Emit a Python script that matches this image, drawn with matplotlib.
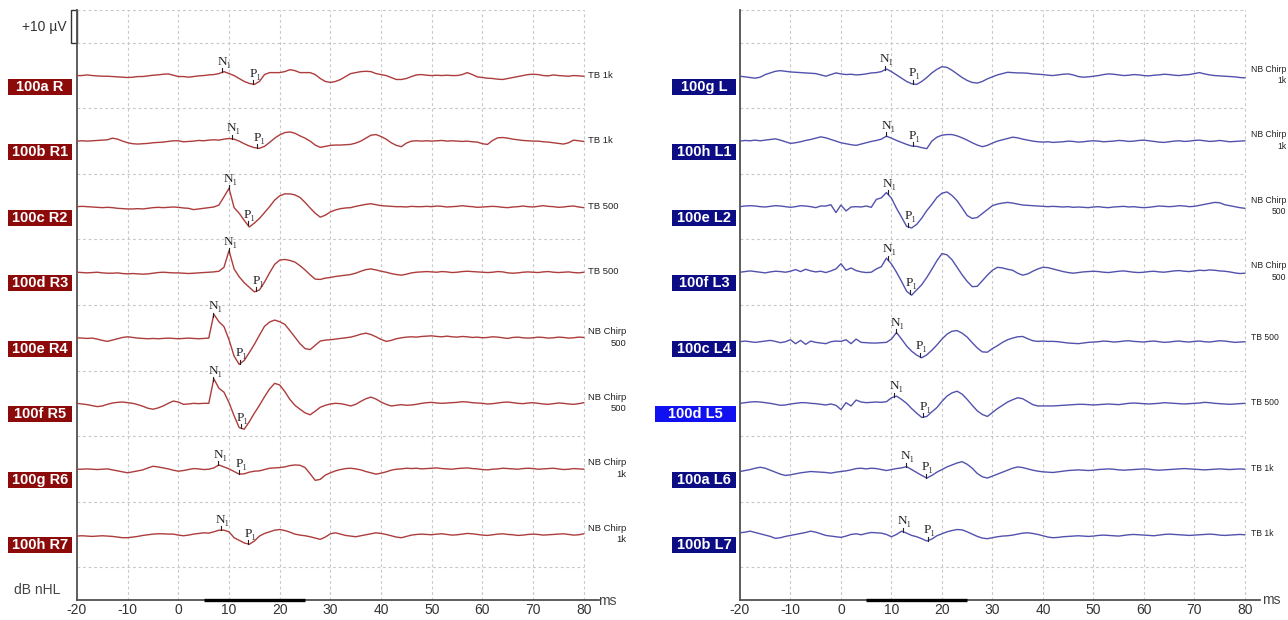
import numpy as np
import matplotlib
matplotlib.use("Agg")
import matplotlib.pyplot as plt
from matplotlib.patches import Rectangle
from matplotlib.transforms import blended_transform_factory

plt.rcParams['font.family'] = ['Liberation Sans', 'DejaVu Sans']
plt.rcParams['axes.unicode_minus'] = False

# sweep time base (ms), one sample per ms
times = np.arange(-20, 81)

# ---- right ear (left panel), amplitudes in uV ----
right_names = ["100a R", "100b R1", "100c R2", "100d R3",
               "100e R4", "100f R5", "100g R6", "100h R7"]
right_stims = ["TB 1k", "TB 1k", "TB 500", "TB 500",
               "NB Chirp\n500", "NB Chirp\n500", "NB Chirp\n1k", "NB Chirp\n1k"]
right_n1 = [8.7, 10.6, 9.9, 9.9, 6.9, 6.9, 7.9, 8.4]
right_p1 = [14.8, 15.6, 13.7, 15.4, 12.1, 12.3, 12.0, 13.8]

r0 = [0.0, 0.0, 0.2, 0.0, -0.1, -0.2, -0.2, -0.3, -0.4, -0.5,
      -0.6, -0.5, -0.3, -0.3, -0.1, 0.1, 0.2, 0.4, 0.5, 0.1,
      -0.3, -0.3, -0.5, -0.3, -0.1, 0.0, 0.2, 0.3, 0.6, 1.2,
      0.6, 0.0, -0.9, -1.8, -2.4, -2.7, -1.8, 0.3, 0.9, 0.9,
      0.9, 1.2, 1.8, 1.5, 0.9, 0.9, 0.9, 0.3, -0.9, -1.8,
      -2.1, -1.8, -1.2, -0.3, 0.6, 0.9, 1.2, 1.3, 1.2, 0.6,
      0.3, 0.0, -0.6, -1.2, -1.2, -0.9, -0.3, 0.2, 0.3, 0.1,
      0.0, 0.1, 0.0, 0.1, 0.0, 0.0, 0.3, 0.9, 0.3, -0.4,
      -0.6, -0.8, -0.9, -1.1, -1.2, -0.9, -0.6, -0.3, 0.0, 0.3,
      0.4, 0.3, 0.0, -0.1, 0.2, 0.0, -0.1, -0.2, 0.0, -0.1, -0.2]
r1 = [0.0, 0.1, 0.0, 0.1, 0.2, 0.3, 0.4, 0.9, 0.6, 0.0,
      -0.5, -0.8, -0.9, -0.8, -0.7, -0.5, -0.4, -0.3, -0.1, 0.1,
      0.1, -0.2, -0.1, 0.0, 0.2, 0.1, 0.3, 0.4, 0.3, 0.6,
      0.8, 0.6, 0.0, -0.8, -1.5, -2.0, -2.2, -1.6, -0.4, 0.9,
      1.9, 2.6, 2.8, 2.4, 1.6, 0.9, 0.0, -1.2, -1.9, -1.6,
      -1.3, -1.2, -1.2, -1.1, -1.0, -0.6, 0.0, 0.9, 1.8, 2.0,
      1.4, 0.6, -0.5, -1.3, -1.7, -0.6, 0.0, 0.1, 0.0, 0.1,
      0.0, 0.1, 0.2, 0.0, 0.1, 0.0, -0.1, 0.0, -0.2, -0.3,
      -0.8, -1.0, 0.2, 1.0, 1.1, 0.9, 0.6, 0.4, 0.2, 0.1,
      0.0, 0.0, -0.2, -0.3, -0.5, -0.7, -0.9, -0.5, 0.3, 0.1, -0.1]
r2 = [0.0, 0.1, 0.0, -0.1, -0.2, -0.3, -0.2, -0.3, -0.5, -0.6,
      -0.7, -0.7, -0.6, -0.7, -0.5, -0.3, -0.2, -0.3, -0.2, -0.1,
      -0.2, -0.4, -0.5, -0.9, -0.7, -0.5, -0.3, -0.1, 0.5, 3.0,
      5.6, -0.3, -2.0, -4.2, -6.2, -5.0, -3.6, -1.8, 0.0, 2.0,
      3.3, 3.9, 3.9, 3.6, 2.8, 1.3, -0.4, -2.0, -3.2, -2.6,
      -1.6, -1.0, -0.6, -0.4, -0.3, 0.1, 0.4, 0.7, 0.9, 0.6,
      0.3, 0.2, 0.1, 0.0, 0.0, -0.1, 0.1, 0.0, 0.0, 0.1,
      0.0, 0.2, 0.1, -0.1, 0.0, 0.1, 0.3, 0.1, 0.0, -0.2,
      -0.1, 0.0, 0.1, 0.0, -0.2, -0.3, -0.1, 0.0, 0.2, 0.0,
      -0.1, 0.1, 0.3, 0.1, 0.0, -0.2, -0.1, 0.1, 0.2, -0.1, -0.3]
r3 = [0.0, -0.1, -0.2, -0.1, 0.0, -0.2, -0.3, -0.3, -0.2, -0.4,
      -0.5, -0.4, -0.5, -0.6, -0.5, -0.3, -0.1, 0.0, -0.1, -0.2,
      -0.2, -0.3, -0.4, -0.3, -0.2, -0.1, 0.0, 0.1, 0.3, 1.5,
      6.6, 1.0, -1.4, -3.2, -4.6, -6.0, -5.4, -3.0, -0.2, 2.4,
      3.7, 3.9, 3.6, 3.1, 2.0, 0.7, -0.8, -2.1, -2.2, -1.8,
      -1.6, -1.3, -1.1, -0.9, -0.7, -0.3, 0.3, 0.8, 1.0, 0.7,
      0.3, 0.0, -0.4, -0.7, -0.9, -0.6, -0.2, 0.0, 0.1, 0.2,
      0.1, 0.0, 0.2, 0.1, -0.1, 0.0, 0.2, 0.3, 0.2, 0.1,
      0.0, -0.1, 0.0, 0.2, 0.1, -0.2, -0.3, -0.2, 0.0, 0.1,
      0.0, -0.1, 0.1, 0.2, 0.0, -0.1, 0.0, 0.1, -0.1, -0.2, 0.0]
r4 = [0.0, -0.1, -0.2, -0.1, -0.4, -0.8, -1.1, -0.7, -0.3, 0.1,
      0.3, 0.1, -0.1, -0.2, -0.3, -0.2, -0.3, -0.2, -0.1, -0.2,
      -0.3, -0.2, -0.1, -0.2, -0.3, -0.2, -0.1, 7.2, 4.9, 3.4,
      -0.6, -5.6, -8.1, -6.9, -4.5, -2.0, 0.8, 3.5, 4.8, 5.4,
      4.9, 4.1, 2.2, 0.2, -1.8, -3.3, -3.6, -2.3, -1.0, -0.7,
      -0.6, -0.4, -0.2, 0.0, 0.2, 0.6, 1.1, 1.4, 1.0, 0.3,
      -0.5, -1.1, -0.8, -0.3, 0.0, 0.2, 0.3, 0.2, 0.4, 0.5,
      0.6, 0.4, 0.3, 0.5, 0.3, 0.2, 0.4, 0.3, 0.1, 0.2,
      0.0, 0.1, 0.3, 0.2, 0.0, -0.2, 0.1, 0.2, 0.0, -0.1,
      0.0, 0.2, 0.1, -0.1, 0.0, 0.2, 0.1, -0.1, 0.0, 0.2, 0.1]
r5 = [0.0, -0.2, -0.4, -0.7, -1.0, -0.8, -0.3, 0.1, 0.3, 0.4,
      0.2, 0.0, -0.4, -0.9, -1.5, -1.8, -1.4, -0.8, 0.0, 0.7,
      0.4, -0.3, -0.2, 0.0, -0.1, 0.0, 0.0, 7.5, 4.6, 3.4,
      0.2, -3.8, -7.4, -7.9, -5.6, -3.0, -0.6, 2.0, 4.4, 6.1,
      5.6, 3.6, 1.2, -0.6, -1.8, -2.9, -3.5, -2.4, -1.2, -0.6,
      -0.2, 0.0, -0.1, -0.4, -0.8, -0.3, 0.6, 1.4, 1.9, 1.3,
      0.4, -0.3, -0.8, -0.6, -0.4, -0.6, -0.5, -0.3, 0.0, 0.2,
      0.3, 0.1, 0.0, 0.1, 0.2, 0.3, 0.5, 0.4, 0.2, 0.1,
      0.0, -0.2, -0.1, 0.1, 0.3, 0.4, 0.2, 0.0, -0.1, 0.1,
      0.2, 0.0, -0.2, -0.3, -0.1, 0.1, 0.0, -0.2, -0.3, -0.1, 0.2]
r6 = [-0.1, -0.1, 0.0, -0.1, -0.2, -0.1, 0.0, -0.3, -0.6, -0.9,
      -1.2, -0.9, -0.6, -0.3, 0.3, 0.8, 0.6, 0.3, 0.0, -0.4,
      -0.7, -0.5, -0.2, 0.1, 0.0, -0.2, -0.1, 0.3, 1.2, 0.6,
      0.0, -0.8, -1.6, -1.5, -1.0, -0.7, -0.6, -0.2, 0.2, 0.3,
      0.4, 0.6, 1.0, 1.2, 1.1, 0.4, -1.5, -3.5, -3.2, -1.9,
      -1.2, -0.6, -0.2, 0.1, 0.2, 0.0, -0.3, -0.8, -1.2, -1.6,
      -1.3, -0.9, -0.4, -0.1, 0.0, 0.2, 0.1, 0.2, 0.0, 0.1,
      0.2, 0.3, 0.1, 0.0, -0.1, 0.1, 0.2, 0.3, 0.1, 0.0,
      -0.2, -0.3, -0.1, 0.0, 0.2, 0.1, 0.0, -0.1, 0.1, 0.2,
      0.1, -0.1, 0.0, 0.1, 0.2, 0.0, -0.2, -0.1, 0.1, 0.0, -0.1]
r7 = [-0.5, -0.4, -0.5, -0.6, -0.5, -0.4, -0.5, -0.6, -0.8, -1.0,
      -1.0, -0.8, -0.6, -0.3, -0.1, 0.1, 0.2, 0.2, 0.1, 0.1,
      -0.2, -0.4, -0.2, 0.1, 0.3, 0.5, 0.4, 0.8, 1.3, 1.3,
      0.8, -1.0, -1.8, -2.6, -3.0, -2.0, -0.5, 0.3, 0.8, 1.3,
      1.5, 1.2, 0.7, 0.1, -0.2, -0.4, -0.7, -1.1, -1.5, -0.8,
      0.2, 0.5, 0.1, -0.3, -0.5, -0.7, -0.4, -0.1, 0.2, 0.5,
      0.3, 0.0, -0.4, -0.8, -1.0, -0.6, -0.2, 0.0, 0.1, 0.0,
      -0.1, 0.1, 0.2, 0.0, -0.2, -0.1, 0.1, 0.3, 0.2, 0.0,
      -0.2, -0.3, -0.1, 0.1, 0.2, 0.0, -0.1, -0.3, -0.2, 0.0,
      0.1, 0.0, -0.2, -0.1, 0.0, 0.1, 0.2, 0.0, -0.2, -0.1, 0.2]

# ---- left ear (right panel) ----
left_names = ["100g L", "100h L1", "100e L2", "100f L3",
              "100c L4", "100d L5", "100a L6", "100b L7"]
left_stims = ["NB Chirp\n1k", "NB Chirp\n1k", "NB Chirp\n500", "NB Chirp\n500",
              "TB 500", "TB 500", "TB 1k", "TB 1k"]
left_n1 = [8.7, 9.0, 9.3, 9.3, 10.9, 10.6, 12.8, 12.3]
left_p1 = [14.2, 14.2, 13.3, 13.6, 15.6, 16.3, 16.8, 17.2]

l0 = [-0.2, -0.4, -0.6, -0.8, -0.5, 0.3, 0.8, 1.3, 1.5, 1.3,
      1.1, 1.0, 0.9, 0.8, 0.7, 0.6, 0.2, -0.2, 0.3, 0.8,
      0.5, 0.3, 0.4, 0.2, 0.3, 0.5, 0.8, 0.9, 1.2, 2.0,
      1.2, 0.2, -0.8, -1.8, -2.5, -2.7, -1.8, -0.6, 0.8, 1.9,
      2.7, 2.5, 1.6, 0.5, -0.6, -1.5, -2.1, -2.3, -1.8, -1.0,
      -0.4, 0.2, 0.6, 1.0, 0.9, 0.8, 0.8, 0.7, 0.5, 0.4,
      0.3, 0.1, 0.0, 0.2, 0.4, 0.5, 0.2, -0.3, -0.5, -0.4,
      -0.2, 0.0, 0.3, 0.5, 0.4, 0.2, 0.0, 0.1, 0.3, 0.2,
      0.0, -0.1, 0.1, 0.2, 0.4, 0.3, 0.1, 0.0, 0.2, 0.3,
      0.6, 0.9, 0.5, 0.2, 0.0, -0.1, -0.2, -0.3, -0.4, -0.6, -0.7]
l1 = [0.0, 0.2, 0.1, 0.3, 0.1, 0.3, 0.5, 0.7, 0.3, -0.2,
      -0.7, -0.5, -0.2, 0.2, 0.5, 0.9, 1.3, 1.0, 0.5, 0.0,
      -0.5, -0.8, -1.1, -1.3, -0.9, -0.5, -0.1, 0.2, 0.6, 1.5,
      0.9, 0.2, -0.4, -1.0, -1.5, -1.6, -2.0, -2.3, 0.0, 1.2,
      1.8, 2.0, 2.0, 1.6, 1.0, 0.3, -0.5, -1.2, -1.7, -1.3,
      -0.6, 0.0, 0.4, 0.8, 1.2, 1.0, 0.6, 0.3, 0.0, -0.2,
      -0.3, -0.2, -0.4, -0.3, -0.2, 0.0, -0.1, -0.3, -0.2, 0.0,
      0.1, 0.0, -0.2, -0.1, 0.0, 0.2, 0.1, -0.1, 0.0, 0.2,
      0.3, 0.1, -0.1, -0.3, -0.4, -0.2, 0.0, 0.1, -0.1, 0.0,
      0.2, 0.3, 0.1, -0.1, 0.0, 0.2, 0.0, -0.2, -0.1, 0.0, 0.1]
l2 = [0.0, 0.2, 0.3, 0.2, 0.0, -0.1, 0.1, 0.3, 0.2, 0.0,
      -0.2, 0.0, 0.3, 0.2, 0.0, -0.3, 0.2, 0.2, 0.6, -1.8,
      0.5, -1.3, -0.1, 0.0, -0.1, 0.2, -0.2, 2.2, 2.7, 4.3,
      2.6, -0.5, -3.2, -6.0, -6.5, -5.4, -3.5, -1.2, 0.7, 2.8,
      4.1, 4.5, 3.4, 1.8, -0.4, -2.7, -3.6, -3.3, -2.1, -0.9,
      0.3, 0.8, 1.1, 1.3, 1.1, 0.8, 0.5, 0.4, 0.3, 0.2,
      0.1, 0.0, 0.1, 0.0, -0.1, 0.0, -0.2, -0.1, -0.2, -0.3,
      -0.1, 0.0, -0.2, -0.3, -0.1, 0.0, 0.1, -0.1, 0.0, -0.2,
      -0.3, -0.2, 0.0, 0.2, 0.1, 0.0, 0.1, 0.3, 0.2, 0.0,
      0.1, 0.4, 0.7, 1.0, 1.3, 1.2, 0.6, 0.3, 0.0, -0.3, -0.5]
l3 = [0.0, 0.2, 0.4, 0.2, 0.0, -0.2, 0.1, 0.3, 0.2, 0.0,
      0.3, 0.8, 0.2, 0.9, 0.4, 0.1, 0.3, -0.1, 0.4, 1.0,
      2.6, 0.6, 1.3, 0.5, 0.1, -0.1, 0.0, 1.0, 1.7, 4.3,
      2.5, 0.0, -2.8, -5.8, -7.0, -5.4, -3.8, -1.6, 0.9, 3.5,
      5.7, 5.3, 3.8, 1.5, -0.8, -2.8, -4.4, -4.3, -2.6, -0.9,
      0.6, 1.5, 1.3, 0.9, 0.6, -0.3, -0.9, -0.5, 0.3, 1.0,
      1.5, 1.4, 1.0, 0.6, 0.2, -0.1, -0.3, -0.1, 0.1, 0.2,
      0.3, 0.2, 0.0, -0.1, 0.1, 0.3, 0.4, 0.2, 0.0, -0.1,
      0.0, 0.2, 0.3, 0.1, 0.0, 0.2, 0.4, 0.5, 0.3, 0.2,
      0.4, 0.6, 0.5, 0.7, 0.6, 0.4, 0.3, 0.1, -0.2, -0.4, -0.3]
l4 = [-1.2, -1.0, -1.2, -1.4, -1.2, -1.0, -0.8, -1.1, -1.5, -1.2,
      -0.6, -1.8, -0.8, -2.0, -1.0, -1.4, -1.6, -1.8, -1.2, -1.0,
      -1.1, -0.6, -1.8, -0.4, -1.4, -1.5, -1.6, -1.6, -1.5, -1.4,
      -0.4, 1.6, -0.4, -2.5, -4.1, -5.3, -6.1, -5.2, -3.8, -2.2,
      -0.4, 1.1, 2.0, 2.2, 1.4, 0.2, -1.5, -3.1, -4.3, -4.4,
      -3.3, -2.4, -1.4, -0.6, -0.1, 0.3, 0.4, -0.3, -0.9, -1.1,
      -1.0, -1.1, -1.1, -1.2, -1.4, -1.6, -1.7, -1.8, -1.6, -1.4,
      -1.3, -1.2, -1.0, -1.1, -1.3, -1.2, -1.0, -0.9, -1.1, -1.2,
      -1.3, -1.1, -1.0, -1.2, -1.4, -1.3, -1.1, -1.0, -1.2, -1.3,
      -1.1, -1.0, -1.2, -1.3, -1.1, -0.9, -1.0, -1.2, -1.4, -1.3, -1.2]
l5 = [0.0, 0.2, 0.4, 0.5, 0.4, 0.2, 0.0, -0.3, -0.6, -0.5,
      -0.2, 0.0, 0.2, 0.2, 0.0, -0.1, -0.3, -0.5, -0.2, -0.6,
      -1.9, 0.2, -0.8, 1.0, 0.4, 0.2, 0.3, 0.4, 0.3, 0.5,
      1.7, 2.2, 1.2, 0.0, -1.6, -3.0, -4.3, -4.0, -2.6, -1.3,
      0.6, 2.2, 3.2, 3.7, 2.8, 1.2, -0.6, -2.3, -3.4, -4.0,
      -2.8, -1.6, -0.6, 0.4, 1.1, 1.7, 1.4, 0.5, -0.4, -0.8,
      -0.8, -0.8, -0.8, -0.7, -0.6, -0.5, -0.4, -0.3, -0.3, -0.4,
      -0.5, -0.4, -0.3, -0.2, -0.3, -0.4, -0.2, 0.0, 0.1, 0.0,
      -0.1, -0.2, -0.1, 0.0, 0.2, 0.1, 0.0, -0.1, -0.2, -0.1,
      0.0, 0.1, 0.3, 0.2, 0.0, -0.1, -0.2, -0.3, -0.2, -0.1, 0.0]
l6 = [-0.8, -0.5, -0.2, 0.2, 0.5, 0.2, -0.4, -1.0, -1.6, -2.0,
      -1.8, -1.5, -1.2, -1.0, -0.8, -0.9, -1.0, -1.1, -1.3, -1.0,
      -0.8, -0.6, -0.3, 0.1, 0.2, 0.0, 0.2, 0.1, -0.2, -0.5,
      -0.2, 0.1, 0.3, 0.7, -0.2, -1.1, -2.0, -2.8, -2.0, -1.0,
      -0.2, 0.6, 1.2, 1.8, 2.2, 1.4, 0.2, -1.4, -2.4, -2.8,
      -2.2, -1.6, -1.0, -0.4, 0.2, 0.6, 0.4, 0.0, -0.4, -0.7,
      -0.9, -1.0, -1.1, -0.9, -0.7, -0.5, -0.4, -0.3, -0.4, -0.5,
      -0.4, -0.2, -0.1, 0.0, -0.1, -0.3, -0.4, -0.3, -0.2, -0.1,
      0.0, -0.1, -0.3, -0.4, -0.3, -0.2, -0.1, 0.0, 0.1, 0.0,
      -0.1, -0.2, -0.3, -0.2, -0.1, 0.0, -0.1, -0.2, -0.1, 0.0, -0.1]
l7 = [0.5, 0.7, 1.0, 0.6, 0.2, -0.2, -0.6, -1.2, -1.0, -0.6,
      -0.3, 0.0, 0.3, 0.6, 1.0, 0.7, 0.2, -0.3, -0.5, -0.7,
      -0.9, -0.5, 0.0, 0.2, -0.1, 0.3, 0.6, 0.5, 0.4, 0.0,
      -0.7, 0.0, 1.0, 0.4, -0.3, -0.7, -1.3, -2.0, -1.4, -0.4,
      0.2, 0.8, 1.2, 1.5, 1.4, 0.8, 0.1, -0.6, -1.1, -1.3,
      -1.0, -0.7, -0.5, -0.4, -0.2, 0.1, 0.4, 0.5, 0.3, 0.0,
      -0.4, -0.8, -1.0, -0.9, -0.7, -0.6, -0.5, -0.4, -0.5, -0.6,
      -0.5, -0.3, -0.2, -0.3, -0.4, -0.5, -0.3, -0.1, 0.0, -0.1,
      -0.2, -0.3, -0.4, -0.2, 0.0, 0.1, 0.0, -0.1, -0.2, -0.3,
      -0.2, -0.1, 0.0, 0.1, 0.0, -0.2, -0.3, -0.2, -0.1, 0.0, -0.1]

right_traces = [r0, r1, r2, r3, r4, r5, r6, r7]
left_traces = [l0, l1, l2, l3, l4, l5, l6, l7]

W, H = 1288, 620
UV = 0.05          # 10 uV = half a row
PX = 9 / 590.0     # one pixel in row units


def draw_panel(ax, traces, names, stims, n1, p1, line_col, box_cols, box_x,
               stim_x, stim_size):
    ax.set_xlim(-20, 83)
    ax.set_ylim(0, 9)
    for y in list(np.arange(0.5, 9.0, 1.0)) + [9]:
        ax.hlines(y, -20, 80, color='#c8c8c8', lw=0.8, linestyles=(0, (2.5, 2.5)))
    for x in range(-10, 81, 10):
        ax.vlines(x, 0, 9, color='#c8c8c8', lw=0.8, linestyles=(0, (2.5, 2.5)))

    bt = blended_transform_factory(ax.figure.transFigure, ax.transData)
    for i, tr in enumerate(traces):
        base = 8 - i
        y = base + np.array(tr) * UV
        ax.plot(times, y, color=line_col, lw=1.0, zorder=3)

        for lat, lab in ((n1[i], 'N₁'), (p1[i], 'P₁')):
            v = base + np.interp(lat, times, tr) * UV
            ax.plot([lat, lat], [v, v + 4 * PX], color='#222222', lw=0.8, zorder=4)
            ax.text(lat + 0.4, v + 4.5 * PX, lab, ha='center', va='bottom',
                    fontsize=9.5, color='#222222',
                    family=['Liberation Serif', 'DejaVu Serif'], zorder=5)

        x0, x1 = box_x[i]
        rect = Rectangle((x0 / W, base - 3 * PX), (x1 - x0) / W, -16 * PX,
                         transform=bt, facecolor=box_cols[i], edgecolor='none',
                         clip_on=False)
        ax.add_artist(rect)
        ax.text((x0 + x1) / 2 / W, base - 11 * PX, names[i], transform=bt,
                ha='center', va='center', color='white', fontsize=10.5,
                fontweight='bold', clip_on=False)

        ax.text(stim_x / W, base + 0.5 * PX, stims[i], transform=bt,
                ha='left', va='center', multialignment='right',
                fontsize=stim_size, color='#222222', linespacing=1.35,
                clip_on=False)

    ax.plot([5, 25], [0, 0], color='black', lw=2.4, solid_capstyle='butt',
            clip_on=False, zorder=6)

    for s in ('top', 'right'):
        ax.spines[s].set_visible(False)
    for s in ('left', 'bottom'):
        ax.spines[s].set_color('#505050')
        ax.spines[s].set_linewidth(1.3)
    ax.set_xticks(range(-20, 81, 10))
    ax.set_yticks([])
    ax.tick_params(axis='x', length=0, pad=2.5, labelsize=10, colors='#333333')


fig = plt.figure(figsize=(W / 100, H / 100), dpi=100)
fig.patch.set_facecolor('white')

ax_r = fig.add_axes([77 / W, 20 / H, 522 / W, 590 / H])
ax_l = fig.add_axes([740 / W, 20 / H, 520 / W, 590 / H])

red_box = ['#8c0a0a'] * 8
blue_box = ['#0c0c84'] * 8
blue_box[5] = '#1010f0'
red_x = [(8, 72)] * 8
blue_x = [(672, 736)] * 8
blue_x[5] = (655, 736)

draw_panel(ax_r, right_traces, right_names, right_stims, right_n1, right_p1,
           '#ad3c3c', red_box, red_x, 588, 6.8)
draw_panel(ax_l, left_traces, left_names, left_stims, left_n1, left_p1,
           '#5252ad', blue_box, blue_x, 1251, 6.2)

# 10 uV calibration bar
bt = blended_transform_factory(fig.transFigure, ax_r.transData)
ax_r.add_artist(Rectangle((71 / W, 9 - 10 * UV), 6 / W, 10 * UV, transform=bt,
                          facecolor='white', edgecolor='#333333', lw=1.0,
                          clip_on=False))
fig.text(67 / W, 1 - 27 / H, '+10 µV', ha='right', va='center', fontsize=10,
         color='#333333')
fig.text(14 / W, 1 - 590 / H, 'dB nHL', ha='left', va='center', fontsize=10,
         color='#444444')
fig.text(598 / W, 1 - 601 / H, 'ms', ha='left', va='center', fontsize=10,
         color='#444444')
fig.text(1262 / W, 1 - 600 / H, 'ms', ha='left', va='center', fontsize=10,
         color='#444444')

fig.savefig('out.png', dpi=100, facecolor='white')
